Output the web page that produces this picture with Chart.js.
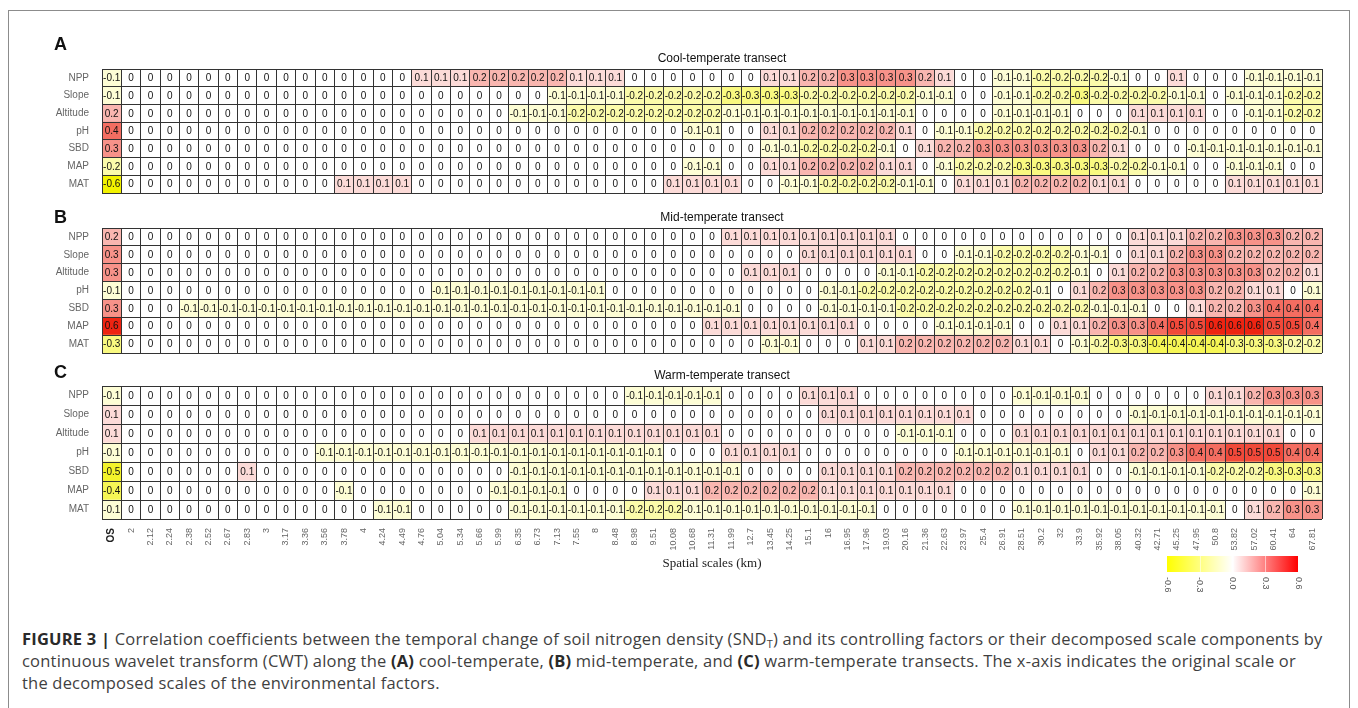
<!DOCTYPE html>
<html>
<head>
<meta charset="utf-8">
<title>Figure 3 - correlation heatmaps</title>
<script src="https://cdn.jsdelivr.net/npm/chart.js@4.4.1/dist/chart.umd.min.js"></script>
<style>
  html, body { margin: 0; padding: 0; background: #fff; }
  body { width: 1358px; height: 708px; position: relative; overflow: hidden; }
  #frame { position: absolute; left: 8px; top: 10px; width: 1342px; height: 720px;
           border: 1px solid #8c8c8c; box-sizing: border-box; }
  canvas { position: absolute; left: 0; }
  #panelA { top: 28px; }
  #panelB { top: 205px; }
  #panelC { top: 362px; }
  #caption { position: absolute; left: 22px; top: 628px; font-family: "Open Sans", "Liberation Sans", sans-serif;
             font-size: 16.5px; letter-spacing: 0.2px; line-height: 22px; color: #3f3f3f; white-space: nowrap; }
  #caption b { color: #2a2a2a; }
  #caption sub { font-size: 11px; line-height: 0; vertical-align: -3px; }
</style>
</head>
<body>
<div id="frame"></div>
<canvas id="panelA" width="1358" height="176"></canvas>
<canvas id="panelB" width="1358" height="159"></canvas>
<canvas id="panelC" width="1358" height="238"></canvas>
<div id="caption">
<b>FIGURE 3 |</b> Correlation coefficients between the temporal change of soil nitrogen density (SND<sub>T</sub>) and its controlling factors or their decomposed scale components by<br>
continuous wavelet transform (CWT) along the <b>(A)</b> cool-temperate, <b>(B)</b> mid-temperate, and <b>(C)</b> warm-temperate transects. The x-axis indicates the original scale or<br>
the decomposed scales of the environmental factors.
</div>
<script>
// original scale (OS) + decomposed scales in km
const scaleLabels = ["OS","2","2.12","2.24","2.38","2.52","2.67","2.83","3","3.17","3.36","3.56","3.78","4",
  "4.24","4.49","4.76","5.04","5.34","5.66","5.99","6.35","6.73","7.13","7.55","8",
  "8.48","8.98","9.51","10.08","10.68","11.31","11.99","12.7","13.45","14.25","15.1","16",
  "16.95","17.96","19.03","20.16","21.36","22.63","23.97","25.4","26.91","28.51","30.2","32",
  "33.9","35.92","38.05","40.32","42.71","45.25","47.95","50.8","53.82","57.02","60.41","64","67.81"];
const factors = ["NPP", "Slope", "Altitude", "pH", "SBD", "MAP", "MAT"];
const legendTicks = [-0.6, -0.3, 0, 0.3, 0.6];
const legendLabels = ["-0.6", "-0.3", "0.0", "0.3", "0.6"];

// (A) cool-temperate transect
const coolNPP = [-0.1, 0,0,0,0,0, 0,0,0,0,0, 0,0,0,0,0, 0.1,0.1,0.1,
  0.2,0.2,0.2,0.2,0.2, 0.1,0.1,0.1, 0,0,0,0,0,0,0, 0.1,0.1, 0.2,0.2, 0.3,0.3,0.3,0.3,
  0.2,0.1, 0,0, -0.1,-0.1, -0.2,-0.2,-0.2,-0.2, -0.1, 0,0, 0.1, 0,0,0, -0.1,-0.1,-0.1,-0.1];
const coolSlope = [-0.1, 0,0,0,0,0, 0,0,0,0,0, 0,0,0,0,0, 0,0,0,
  0,0,0,0, -0.1,-0.1,-0.1,-0.1, -0.2,-0.2,-0.2,-0.2,-0.2, -0.3,-0.3,-0.3,-0.3, -0.2,-0.2,-0.2,-0.2,-0.2,-0.2,
  -0.1,-0.1, 0,0, -0.1,-0.1, -0.2,-0.2, -0.3, -0.2,-0.2,-0.2,-0.2, -0.1,-0.1, 0, -0.1,-0.1,-0.1, -0.2,-0.2];
const coolAltitude = [0.2, 0,0,0,0,0, 0,0,0,0,0, 0,0,0,0,0, 0,0,0,
  0,0, -0.1,-0.1,-0.1, -0.2,-0.2,-0.2,-0.2,-0.2,-0.2,-0.2,-0.2, -0.1,-0.1,-0.1,-0.1,-0.1,-0.1,-0.1,-0.1,-0.1,-0.1,
  0,0,0,0, -0.1,-0.1,-0.1,-0.1, 0,0,0, 0.1,0.1,0.1,0.1, 0,0, -0.1,-0.1, -0.2,-0.2];
const coolPH = [0.4, 0,0,0,0,0, 0,0,0,0,0, 0,0,0,0,0, 0,0,0,
  0,0,0,0,0, 0,0,0,0,0, 0, -0.1,-0.1, 0,0, 0.1,0.1, 0.2,0.2,0.2,0.2,0.2, 0.1,
  0, -0.1,-0.1, -0.2,-0.2,-0.2,-0.2,-0.2,-0.2,-0.2,-0.2, -0.1, 0,0,0,0,0, 0,0,0,0];
const coolSBD = [0.3, 0,0,0,0,0, 0,0,0,0,0, 0,0,0,0,0, 0,0,0,
  0,0,0,0,0, 0,0,0,0,0, 0,0,0,0,0, -0.1,-0.1, -0.2,-0.2,-0.2,-0.2, -0.1, 0,
  0.1, 0.2,0.2, 0.3,0.3,0.3,0.3,0.3,0.3, 0.2, 0.1, 0,0,0, -0.1,-0.1,-0.1,-0.1,-0.1,-0.1,-0.1];
const coolMAP = [-0.2, 0,0,0,0,0, 0,0,0,0,0, 0,0,0,0,0, 0,0,0,
  0,0,0,0,0, 0,0,0,0,0, 0, -0.1,-0.1, 0,0, 0.1,0.1, 0.2,0.2,0.2,0.2, 0.1,0.1,
  0, -0.1, -0.2,-0.2,-0.2, -0.3,-0.3,-0.3,-0.3,-0.3, -0.2,-0.2, -0.1,-0.1, 0,0, -0.1,-0.1,-0.1, 0,0];
const coolMAT = [-0.6, 0,0,0,0,0, 0,0,0,0,0, 0, 0.1,0.1,0.1,0.1, 0,0,0,
  0,0,0,0,0, 0,0,0,0,0, 0.1,0.1,0.1,0.1, 0,0, -0.1,-0.1, -0.2,-0.2,-0.2,-0.2, -0.1,
  -0.1, 0, 0.1,0.1,0.1, 0.2,0.2,0.2,0.2, 0.1,0.1, 0,0,0,0,0, 0.1,0.1,0.1,0.1,0.1];

// (B) mid-temperate transect
const midNPP = [0.2, 0,0,0,0,0, 0,0,0,0,0, 0,0,0,0,0, 0,0,0,
  0,0,0,0,0, 0,0,0,0,0, 0,0,0, 0.1,0.1,0.1,0.1,0.1,0.1,0.1,0.1,0.1, 0,
  0,0,0,0,0, 0,0,0,0,0, 0, 0.1,0.1,0.1, 0.2,0.2, 0.3,0.3,0.3, 0.2,0.2];
const midSlope = [0.3, 0,0,0,0,0, 0,0,0,0,0, 0,0,0,0,0, 0,0,0,
  0,0,0,0,0, 0,0,0,0,0, 0,0,0,0,0, 0,0, 0.1,0.1,0.1,0.1,0.1,0.1,
  0,0, -0.1,-0.1, -0.2,-0.2,-0.2,-0.2, -0.1,-0.1, 0, 0.1,0.1, 0.2, 0.3,0.3, 0.2,0.2,0.2,0.2,0.2];
const midAltitude = [0.3, 0,0,0,0,0, 0,0,0,0,0, 0,0,0,0,0, 0,0,0,
  0,0,0,0,0, 0,0,0,0,0, 0,0,0,0, 0.1,0.1,0.1, 0,0,0,0, -0.1,-0.1,
  -0.2,-0.2,-0.2,-0.2,-0.2,-0.2,-0.2,-0.2, -0.1, 0, 0.1, 0.2,0.2, 0.3,0.3,0.3,0.3,0.3, 0.2,0.2, 0.1];
const midPH = [-0.1, 0,0,0,0,0, 0,0,0,0,0, 0,0,0,0,0, 0, -0.1,-0.1,
  -0.1,-0.1,-0.1,-0.1,-0.1,-0.1,-0.1, 0,0,0,0,0, 0,0,0,0,0, 0, -0.1,-0.1, -0.2,-0.2,-0.2,
  -0.2,-0.2,-0.2,-0.2,-0.2,-0.2, -0.1, 0, 0.1, 0.2, 0.3,0.3,0.3,0.3,0.3, 0.2,0.2, 0.1,0.1, 0, -0.1];
const midSBD = [0.3, 0,0,0, -0.1,-0.1,-0.1,-0.1,-0.1, -0.1,-0.1,-0.1,-0.1,-0.1, -0.1,-0.1,-0.1,-0.1,-0.1,
  -0.1,-0.1,-0.1,-0.1,-0.1, -0.1,-0.1,-0.1,-0.1,-0.1, -0.1,-0.1,-0.1,-0.1, 0,0,0,0, -0.1,-0.1,-0.1,-0.1, -0.2,
  -0.2,-0.2,-0.2,-0.2,-0.2,-0.2,-0.2,-0.2,-0.2, -0.1,-0.1,-0.1, 0,0, 0.1, 0.2,0.2, 0.3, 0.4,0.4,0.4];
const midMAP = [0.6, 0,0,0,0,0, 0,0,0,0,0, 0,0,0,0,0, 0,0,0,
  0,0,0,0,0, 0,0,0,0,0, 0,0, 0.1,0.1,0.1,0.1,0.1,0.1,0.1,0.1, 0,0,0,
  0, -0.1,-0.1,-0.1,-0.1, 0,0, 0.1,0.1, 0.2, 0.3,0.3, 0.4, 0.5,0.5, 0.6,0.6,0.6, 0.5,0.5, 0.4];
const midMAT = [-0.3, 0,0,0,0,0, 0,0,0,0,0, 0,0,0,0,0, 0,0,0,
  0,0,0,0,0, 0,0,0,0,0, 0,0,0,0,0, -0.1,-0.1, 0,0,0, 0.1,0.1, 0.2,
  0.2,0.2,0.2,0.2,0.2, 0.1,0.1, 0, -0.1, -0.2, -0.3,-0.3, -0.4,-0.4,-0.4,-0.4, -0.3,-0.3,-0.3, -0.2,-0.2];

// (C) warm-temperate transect
const warmNPP = [-0.1, 0,0,0,0,0, 0,0,0,0,0, 0,0,0,0,0, 0,0,0,
  0,0,0,0,0, 0,0,0, -0.1,-0.1,-0.1,-0.1,-0.1, 0,0,0,0, 0.1,0.1,0.1, 0,0,0,
  0,0,0,0,0, -0.1,-0.1,-0.1,-0.1, 0,0,0,0,0,0, 0.1,0.1, 0.2, 0.3,0.3,0.3];
const warmSlope = [0.1, 0,0,0,0,0, 0,0,0,0,0, 0,0,0,0,0, 0,0,0,
  0,0,0,0,0, 0,0,0,0,0, 0,0,0,0,0, 0,0,0, 0.1,0.1,0.1,0.1,0.1,
  0.1,0.1,0.1, 0,0,0,0,0, 0,0,0, -0.1,-0.1,-0.1,-0.1,-0.1, -0.1,-0.1,-0.1,-0.1,-0.1];
const warmAltitude = [0.1, 0,0,0,0,0, 0,0,0,0,0, 0,0,0,0,0, 0,0,0,
  0.1,0.1,0.1,0.1,0.1, 0.1,0.1,0.1,0.1,0.1, 0.1,0.1,0.1, 0,0,0,0,0, 0,0,0,0, -0.1,
  -0.1,-0.1, 0,0,0, 0.1,0.1,0.1,0.1,0.1, 0.1,0.1,0.1,0.1,0.1, 0.1,0.1,0.1,0.1, 0,0];
const warmPH = [-0.1, 0,0,0,0,0, 0,0,0,0,0, -0.1,-0.1,-0.1,-0.1, -0.1,-0.1,-0.1,-0.1,
  -0.1,-0.1,-0.1,-0.1,-0.1, -0.1,-0.1,-0.1,-0.1,-0.1, 0,0,0, 0.1,0.1,0.1,0.1, 0,0,0,0,0,0,
  0,0, -0.1,-0.1,-0.1,-0.1,-0.1,-0.1, 0, 0.1,0.1, 0.2,0.2, 0.3, 0.4,0.4, 0.5,0.5,0.5, 0.4,0.4];
const warmSBD = [-0.5, 0,0,0,0,0,0, 0.1, 0,0,0,0,0, 0,0,0,0,0, 0,
  0,0, -0.1,-0.1,-0.1,-0.1,-0.1,-0.1, -0.1,-0.1,-0.1,-0.1,-0.1,-0.1, 0,0,0,0, 0.1,0.1,0.1,0.1, 0.2,
  0.2,0.2,0.2,0.2,0.2, 0.1,0.1,0.1,0.1, 0,0, -0.1,-0.1,-0.1,-0.1, -0.2,-0.2,-0.2, -0.3,-0.3,-0.3];
const warmMAP = [-0.4, 0,0,0,0,0, 0,0,0,0,0, 0, -0.1, 0,0,0,0,0,0,
  0, -0.1,-0.1,-0.1,-0.1, 0,0,0,0, 0.1,0.1,0.1, 0.2,0.2,0.2,0.2,0.2,0.2, 0.1,0.1,0.1,0.1,0.1,
  0.1,0.1, 0,0,0,0,0, 0,0,0,0,0, 0,0,0,0,0, 0,0,0, -0.1];
const warmMAT = [-0.1, 0,0,0,0,0, 0,0,0,0,0, 0,0,0, -0.1,-0.1, 0,0,0,
  0,0, -0.1,-0.1,-0.1,-0.1,-0.1,-0.1, -0.2,-0.2,-0.2, -0.1,-0.1,-0.1,-0.1,-0.1, -0.1,-0.1,-0.1,-0.1,-0.1, 0,0,
  0,0,0,0,0, -0.1,-0.1,-0.1,-0.1,-0.1, -0.1,-0.1,-0.1,-0.1,-0.1, -0.1, 0, 0.1, 0.2, 0.3,0.3];

const coolRows = [coolNPP, coolSlope, coolAltitude, coolPH, coolSBD, coolMAP, coolMAT];
const midRows = [midNPP, midSlope, midAltitude, midPH, midSBD, midMAP, midMAT];
const warmRows = [warmNPP, warmSlope, warmAltitude, warmPH, warmSBD, warmMAP, warmMAT];

[coolRows, midRows, warmRows].forEach((rows, p) => rows.forEach((r, i) => {
  if (r.length !== scaleLabels.length) throw new Error("panel " + p + " row " + factors[i] + " has " + r.length);
}));

const SANS = "'Liberation Sans', Arial, sans-serif";
Chart.defaults.font.family = SANS;

// yellow (-0.6) -> white (0) -> red (0.6)
function cellColor(v) {
  const t = Math.min(Math.abs(v) / 0.6, 1);
  const end = v < 0 ? [242, 242, 0] : [238, 36, 18];
  const c = end.map(e => Math.round(255 + (e - 255) * t));
  return `rgb(${c[0]},${c[1]},${c[2]})`;
}

function fmt(v) {
  return v === 0 ? "0" : String(v);
}

const cellText = {
  id: "cellText",
  afterDatasetsDraw(chart) {
    const ctx = chart.ctx;
    ctx.save();
    ctx.font = "10px " + SANS;
    ctx.fillStyle = "#111";
    ctx.textAlign = "center";
    ctx.textBaseline = "middle";
    chart.data.datasets.forEach((ds, di) => {
      chart.getDatasetMeta(di).data.forEach((bar, j) => {
        ctx.fillText(fmt(ds.corr[j]), bar.x, (bar.y + bar.base) / 2 + 0.5);
      });
    });
    ctx.restore();
  }
};

const panelDecor = {
  id: "panelDecor",
  afterDraw(chart, args, opts) {
    const { ctx, chartArea } = chart;
    ctx.save();
    ctx.fillStyle = "#111";
    ctx.font = "bold 18px " + SANS;
    ctx.textAlign = "left";
    ctx.textBaseline = "alphabetic";
    ctx.fillText(opts.letter, 54, opts.letterBase);
    ctx.font = "12px " + SANS;
    ctx.textAlign = "center";
    ctx.textBaseline = "middle";
    ctx.fillText(opts.title, (chartArea.left + chartArea.right) / 2 + 10, chartArea.top - 10);
    ctx.restore();
  }
};

const colorBar = {
  id: "colorBar",
  afterDraw(chart, args, opts) {
    const ctx = chart.ctx;
    const { left, right, top, height } = opts;
    const lo = legendTicks[0], hi = legendTicks[legendTicks.length - 1];
    const xOf = v => left + (v - lo) / (hi - lo) * (right - left);
    ctx.save();
    const g = ctx.createLinearGradient(left, 0, right, 0);
    g.addColorStop(0, "#ffff00");
    g.addColorStop(0.5, "#ffffff");
    g.addColorStop(1, "#ff0000");
    ctx.fillStyle = g;
    ctx.fillRect(left, top, right - left, height);
    ctx.strokeStyle = "rgba(255,255,255,0.55)";
    ctx.lineWidth = 1;
    legendTicks.slice(1, -1).forEach(v => {
      const x = Math.round(xOf(v)) + 0.5;
      ctx.beginPath(); ctx.moveTo(x, top); ctx.lineTo(x, top + height); ctx.stroke();
    });
    ctx.fillStyle = "#555";
    ctx.font = "9px " + SANS;
    ctx.textAlign = "left";
    ctx.textBaseline = "middle";
    legendTicks.forEach((v, i) => {
      ctx.save();
      ctx.translate(xOf(v), top + height + 5);
      ctx.rotate(Math.PI / 2);
      ctx.fillText(legendLabels[i], 0, 0);
      ctx.restore();
    });
    ctx.restore();
  }
};

function heatPanel(id, rows, deco, withAxis) {
  const namesUp = factors.slice().reverse();
  const datasets = rows.slice().reverse().map((vals, i) => ({
    label: namesUp[i],
    data: vals.map(() => 1),
    corr: vals,
    backgroundColor: vals.map(cellColor),
    borderWidth: 0,
    barPercentage: 1,
    categoryPercentage: 1
  }));

  const plugins = [cellText, panelDecor];
  if (withAxis) plugins.push(colorBar);

  return new Chart(document.getElementById(id), {
    type: "bar",
    data: { labels: scaleLabels, datasets },
    options: {
      responsive: false,
      animation: false,
      events: [],
      layout: { padding: { left: 0, right: 36, top: deco.padTop, bottom: deco.padBottom } },
      plugins: {
        legend: { display: false },
        tooltip: { enabled: false },
        panelDecor: deco,
        colorBar: { left: 1167, right: 1298, top: 194, height: 16 }
      },
      scales: {
        x: {
          type: "category",
          stacked: true,
          offset: true,
          grid: { display: true, offset: true, color: "#333", lineWidth: 1, drawTicks: false, z: 1 },
          border: { display: false },
          ticks: {
            display: withAxis,
            autoSkip: false,
            minRotation: 90,
            maxRotation: 90,
            padding: 9,
            color: ctx => ctx.index === 0 ? "#222" : "#666",
            font: ctx => ctx.index === 0 ? { size: 10, weight: "bold" } : { size: 9 }
          },
          title: {
            display: withAxis,
            text: "Spatial scales (km)",
            color: "#222",
            padding: 0,
            font: { family: "'Liberation Serif', 'Times New Roman', serif", size: 13 }
          },
          afterFit: s => { s.height = withAxis ? 52 : 0; }
        },
        y: {
          type: "linear",
          stacked: true,
          min: 0,
          max: factors.length,
          grid: { display: false },
          border: { display: false },
          afterBuildTicks: s => { s.ticks = namesUp.map((_, i) => ({ value: i + 0.5 })); },
          ticks: {
            padding: 5,
            color: "#666",
            font: { size: 10 },
            callback: v => namesUp[Math.floor(v)]
          },
          afterFit: s => { s.width = 102; }
        },
        rowLines: {
          axis: "y",
          type: "linear",
          position: "left",
          min: 0,
          max: factors.length,
          grid: { color: "#333", lineWidth: 1, drawTicks: false, z: 1 },
          border: { display: false },
          ticks: { display: false },
          afterBuildTicks: s => { s.ticks = [0, ...namesUp.map((_, i) => i + 1)].map(v => ({ value: v })); },
          afterFit: s => { s.width = 0; }
        }
      }
    },
    plugins
  });
}

heatPanel("panelA", coolRows, { letter: "A", letterBase: 22, title: "Cool-temperate transect", padTop: 41, padBottom: 1 }, false);
heatPanel("panelB", midRows, { letter: "B", letterBase: 18, title: "Mid-temperate transect", padTop: 23, padBottom: 1 }, false);
heatPanel("panelC", warmRows, { letter: "C", letterBase: 16, title: "Warm-temperate transect", padTop: 24, padBottom: 29 }, true);
</script>
</body>
</html>
